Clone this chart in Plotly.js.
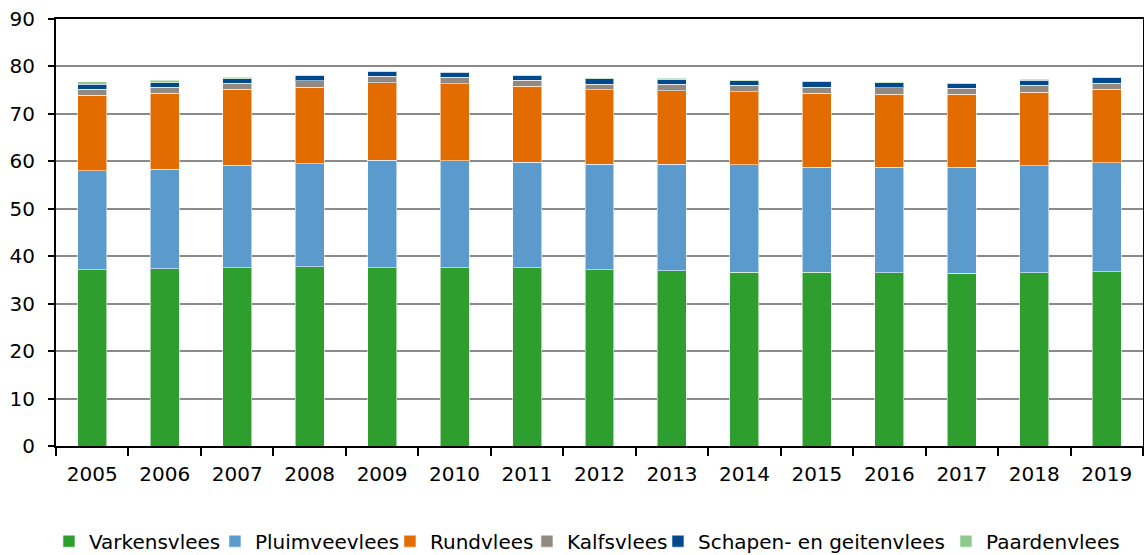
<!DOCTYPE html>
<html>
<head>
<meta charset="utf-8">
<script src="https://cdn.plot.ly/plotly-3.0.1.min.js"></script>
<style>html,body{margin:0;padding:0;background:#fff;}#chart{width:1144px;height:555px;}</style>
</head>
<body>
<div id="chart"></div>
<script>
var years = ["2005","2006","2007","2008","2009","2010","2011","2012","2013","2014","2015","2016","2017","2018","2019"];
var varkensvlees = [37.2,37.4,37.6,37.8,37.6,37.6,37.6,37.2,36.9,36.6,36.6,36.5,36.4,36.5,36.7];
var pluimveevlees = [20.8,20.9,21.6,21.7,22.6,22.5,22.2,22.2,22.5,22.7,22.2,22.3,22.4,22.6,23.0];
var rundvlees = [15.9,16.0,16.0,16.1,16.4,16.3,16.0,15.7,15.5,15.4,15.5,15.3,15.3,15.5,15.5];
var kalfsvlees = [1.3,1.3,1.3,1.4,1.3,1.3,1.3,1.2,1.4,1.3,1.3,1.4,1.3,1.4,1.3];
var schapenGeitenvlees = [1.0,1.0,0.9,1.0,1.1,1.1,0.9,1.1,1.0,1.0,1.2,1.1,1.1,1.1,1.1];
var paardenvlees = [0.6,0.5,0.3,0.2,0.1,0.1,0.2,0.2,0.2,0.1,0.1,0.1,0.1,0.2,0.2];
var seriesNames = ["Varkensvlees","Pluimveevlees","Rundvlees","Kalfsvlees","Schapen- en geitenvlees","Paardenvlees"];

var seriesValues = [varkensvlees, pluimveevlees, rundvlees, kalfsvlees, schapenGeitenvlees, paardenvlees];
var colors = ["#2e9e2e","#5b9acd","#e36c00","#928a82","#00498f","#8cc98a"];
var legendWidths = [121,130,92,86,243,130];
var FONT = "Verdana, 'DejaVu Sans', sans-serif";

var traces = seriesValues.map(function(vals, i){
  return {
    type: "bar",
    name: seriesNames[i],
    x: years,
    y: vals,
    marker: {color: colors[i], line: {color: "rgba(255,255,255,0.55)", width: 1}},
    legendwidth: legendWidths[i],
    hoverinfo: "x+y+name"
  };
});

var layout = {
  width: 1144, height: 555,
  margin: {l: 56, r: 1, t: 19, b: 109},
  paper_bgcolor: "#fff", plot_bgcolor: "#fff",
  barmode: "stack",
  bargap: 0.6,
  font: {family: FONT, size: 20, color: "#000"},
  xaxis: {
    type: "category",
    showline: true, linecolor: "#000", linewidth: 2, mirror: true,
    ticks: "outside", tickson: "boundaries", ticklen: 8, tickwidth: 2, tickcolor: "#000",
    ticklabelstandoff: 9,
    tickfont: {family: FONT, size: 20, color: "#000"},
    showgrid: false, zeroline: false
  },
  yaxis: {
    range: [0, 90], dtick: 10, tick0: 0,
    showline: true, linecolor: "#000", linewidth: 2, mirror: true,
    ticks: "outside", ticklen: 6, tickwidth: 2, tickcolor: "#000",
    ticklabelstandoff: 9,
    tickfont: {family: FONT, size: 20, color: "#000"},
    showgrid: true, gridcolor: "#8a8a8a", gridwidth: 2,
    zeroline: false
  },
  showlegend: true,
  legend: {
    orientation: "h",
    xref: "container",
    x: 0.0428, xanchor: "left",
    yref: "container",
    y: 0.025, yanchor: "middle",
    font: {family: FONT, size: 20, color: "#000"},
    traceorder: "normal",
    itemclick: false
  }
};

Plotly.newPlot("chart", traces, layout, {displayModeBar: false, staticPlot: true});
</script>
</body>
</html>
